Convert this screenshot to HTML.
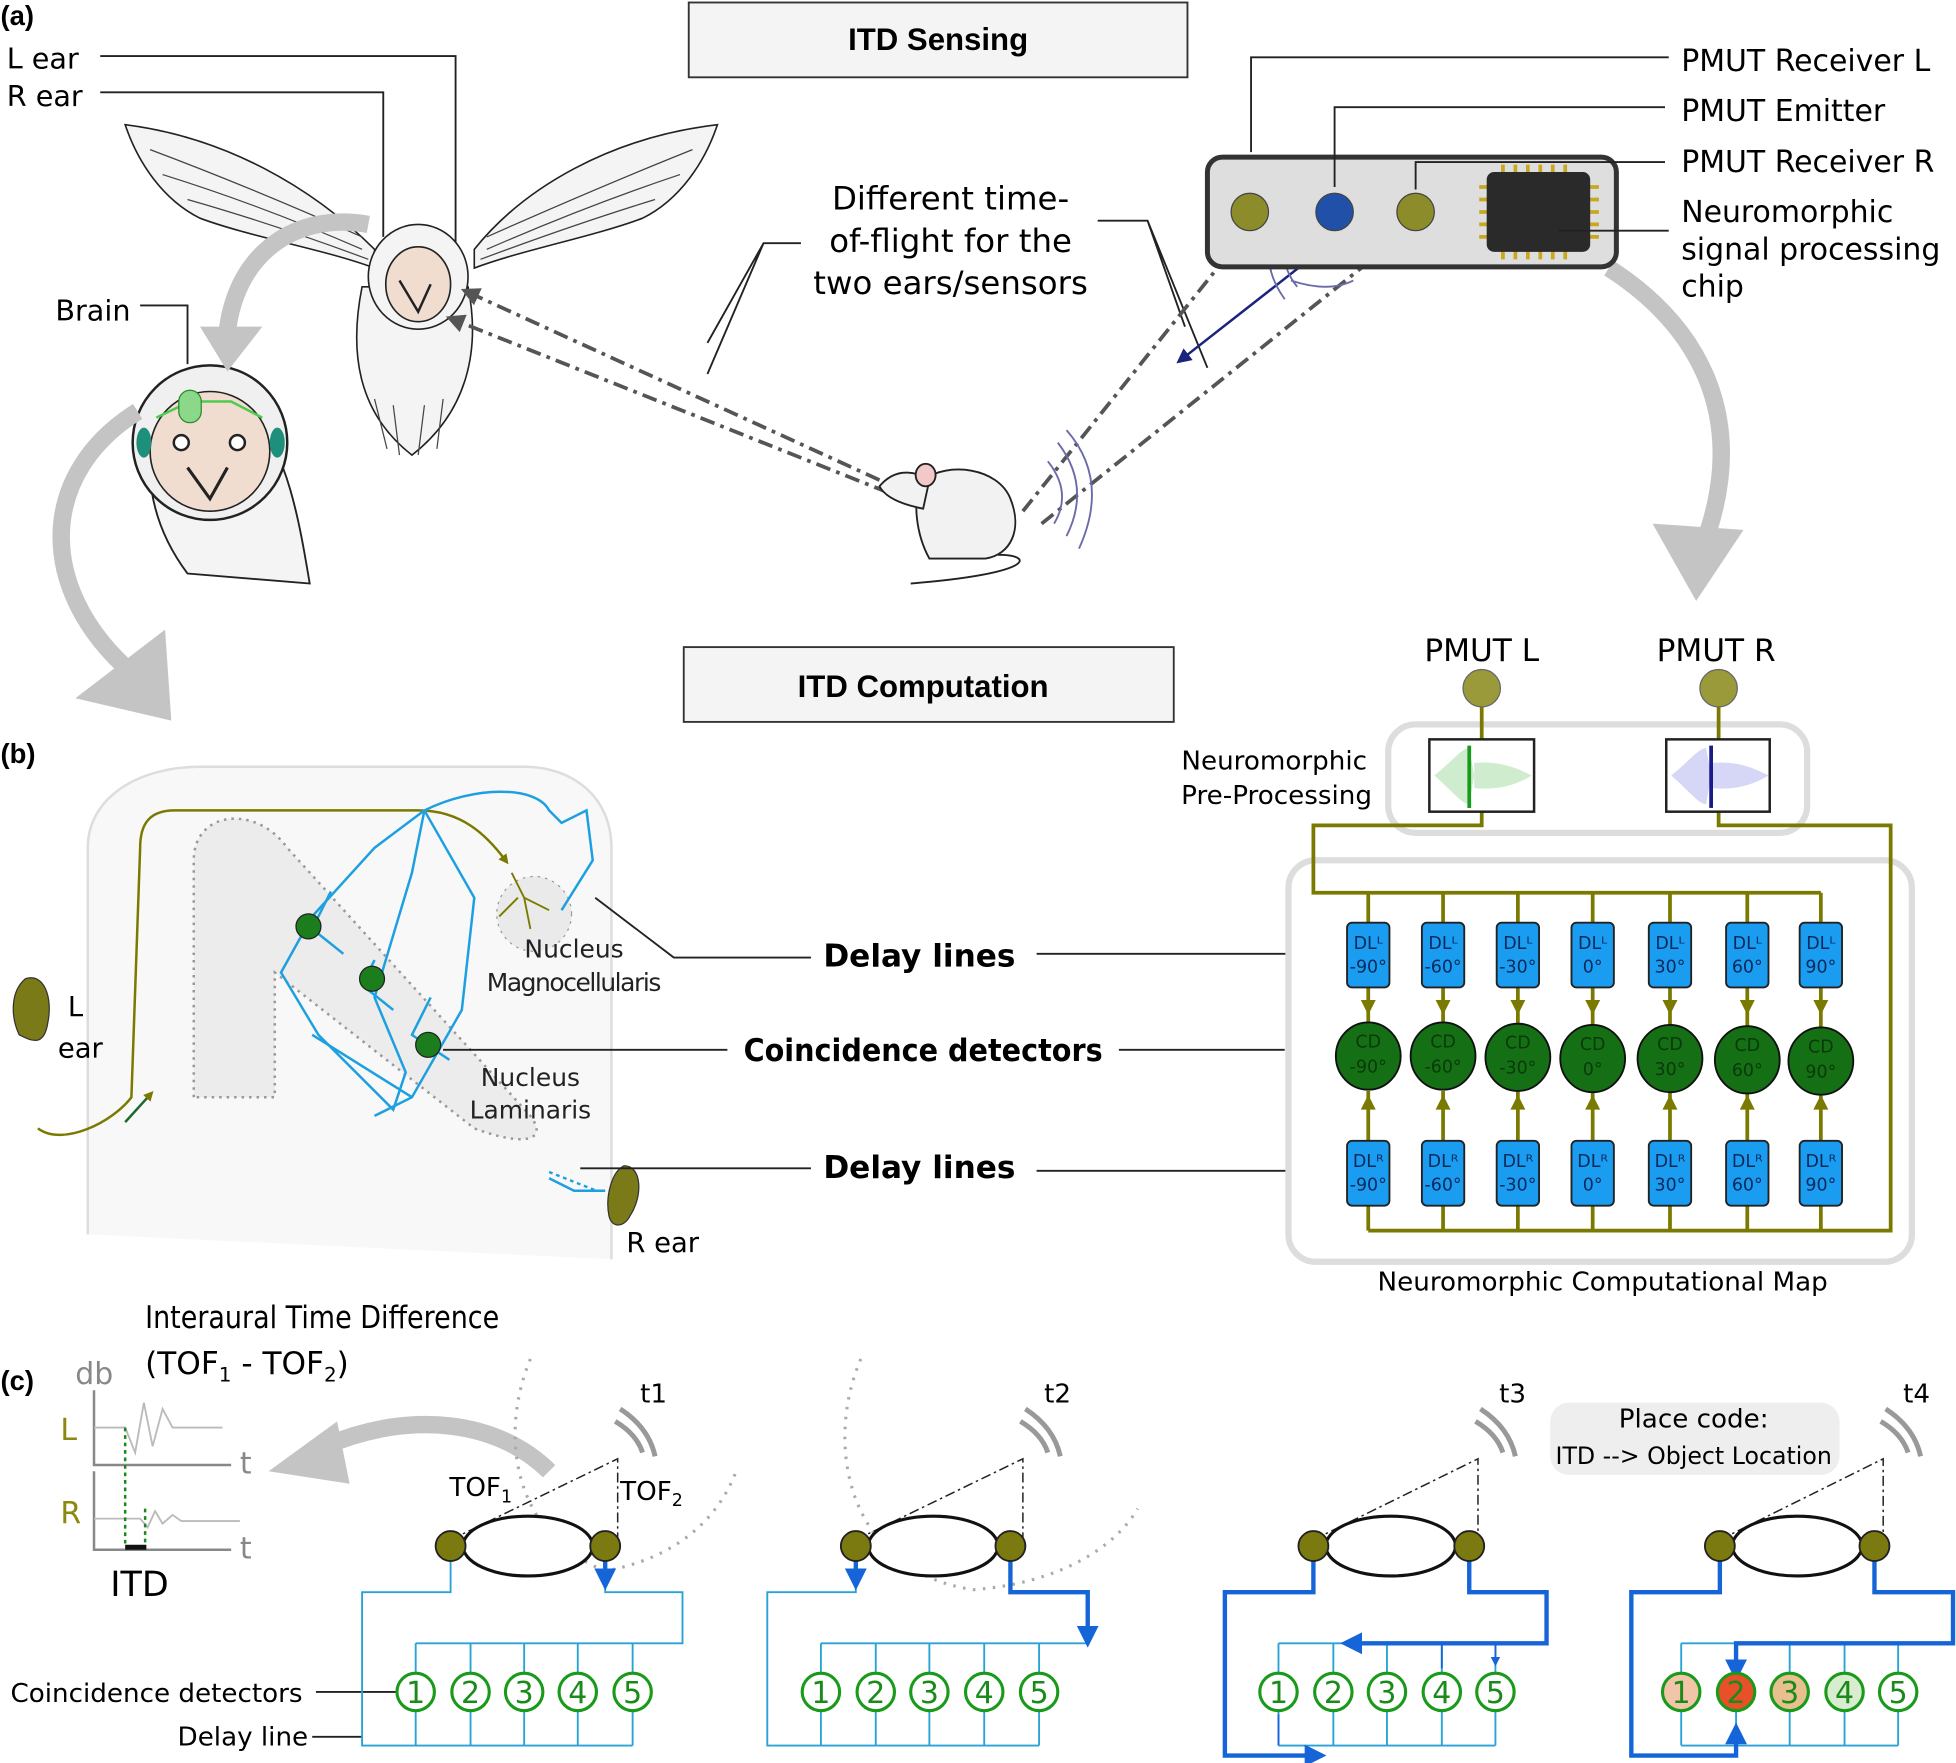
<!DOCTYPE html>
<html><head><meta charset="utf-8"><style>
html,body{margin:0;padding:0;background:#fff}
svg{display:block}
text{font-family:"DejaVu Sans","Liberation Sans",sans-serif}
.b{font-family:"Liberation Sans",sans-serif;font-weight:bold}
</style></head><body>
<svg width="1956" height="1763" viewBox="0 0 1568 1414" xmlns="http://www.w3.org/2000/svg">
<defs>
<marker id="ag" viewBox="0 0 10 10" refX="8" refY="5" markerWidth="5" markerHeight="5" orient="auto"><path d="M0,0L10,5L0,10z" fill="#555"/></marker>
<marker id="ab" viewBox="0 0 10 10" refX="8" refY="5" markerWidth="6" markerHeight="6" orient="auto"><path d="M0,0L10,5L0,10z" fill="#1a237e"/></marker>
<marker id="ao" viewBox="0 0 10 10" refX="5" refY="5" markerWidth="4" markerHeight="4" orient="auto"><path d="M0,0L10,5L0,10z" fill="#7a7a00"/></marker>
<marker id="abl" viewBox="0 0 10 10" refX="8" refY="5" markerWidth="5" markerHeight="5" orient="auto"><path d="M0,0L10,5L0,10z" fill="#1565d8"/></marker>
</defs>

<!-- ===== (a) ===== -->
<text x="0" y="20" class="b" font-size="22">(a)</text>
<rect x="552" y="2" width="400" height="60" fill="#f4f4f4" stroke="#333" stroke-width="1.5"/>
<text x="752" y="40" class="b" font-size="25" text-anchor="middle">ITD Sensing</text>
<text x="5" y="55" font-size="23">L ear</text>
<text x="5" y="85" font-size="23">R ear</text>
<path d="M80,45H365V200M80,74H307V190" fill="none" stroke="#222" stroke-width="1.5"/>

<!-- owl -->
<g fill="#f4f4f4" stroke="#222" stroke-width="1.3">
<path d="M300,200C250,150 180,110 100,100C110,130 130,160 160,175C200,190 260,200 300,215Z"/>
<path d="M380,200C420,150 490,110 575,100C565,130 545,160 515,175C475,190 420,200 380,215Z"/>
<path d="M290,230C280,280 285,330 330,365C375,330 385,280 375,230Z"/>
<ellipse cx="335" cy="222" rx="40" ry="42"/>
<ellipse cx="335" cy="228" rx="26" ry="30" fill="#f1ddd0"/>
</g>
<g stroke="#444" stroke-width="1" fill="none">
<path d="M120,120Q200,150 290,190M130,140Q210,165 290,200M150,160Q220,180 295,208M555,120Q480,150 390,190M545,140Q470,165 390,200M525,160Q460,180 385,208"/>
<path d="M300,320L310,360M315,325L320,365M340,325L335,365M355,320L350,360"/>
</g>
<path d="M320,225L335,250L345,228" fill="none" stroke="#222" stroke-width="2"/>
<!-- brain head -->
<path d="M200,330C230,360 240,420 248,468L150,460C120,420 110,370 130,320Z" fill="#f4f4f4" stroke="#222" stroke-width="1.5"/>
<ellipse cx="168" cy="355" rx="62" ry="62" fill="#f0f0f0" stroke="#222" stroke-width="2"/>
<ellipse cx="168" cy="362" rx="48" ry="48" fill="#f1ddd0" stroke="#222" stroke-width="1.3"/>
<path d="M125,335L152,322L185,322L210,335" fill="none" stroke="#4ccc4c" stroke-width="2"/>
<rect x="143" y="313" width="18" height="26" rx="9" fill="#8bd88b" stroke="#2a8a2a"/>
<ellipse cx="115" cy="355" rx="6" ry="12" fill="#1e8f7a"/><ellipse cx="222" cy="355" rx="6" ry="12" fill="#1e8f7a"/>
<circle cx="145" cy="355" r="6" fill="#fff" stroke="#222" stroke-width="2"/><circle cx="190" cy="355" r="6" fill="#fff" stroke="#222" stroke-width="2"/>
<path d="M150,375L168,400L182,375" fill="none" stroke="#222" stroke-width="2.5"/>
<text x="44" y="257" font-size="23">Brain</text>
<path d="M112,245H150V292" fill="none" stroke="#222" stroke-width="1.5"/>

<!-- gray arrows -->
<g fill="none" stroke="#c4c4c4" stroke-width="14">
<path d="M295,180C240,170 190,200 182,265"/>
<path d="M110,330C30,380 30,470 100,535"/>
<path d="M1290,215C1360,260 1400,330 1370,425"/>
<path d="M440,1180C400,1140 330,1130 260,1160"/>
</g>
<g fill="#c4c4c4">
<path d="M160,262L182,298L210,262Z"/>
<path d="M60,560L137,578L132,505Z"/>
<path d="M1325,420L1360,482L1398,425Z"/>
<path d="M270,1140L215,1180L280,1190Z"/>
</g>

<!-- TOF text -->
<g font-size="26" text-anchor="middle"><text x="762" y="168">Different time-</text><text x="762" y="202">of-flight for the</text><text x="762" y="236">two ears/sensors</text></g>
<path d="M642,195H612L567,275M612,195L567,300M880,177H920L968,295M920,177L950,262" fill="none" stroke="#222" stroke-width="1.5"/>
<g stroke="#555" stroke-width="3" stroke-dasharray="12,5,3,5" fill="none" marker-end="url(#ag)">
<path d="M705,385L372,233"/><path d="M712,395L360,255"/>
<path d="M820,410L1000,185"/><path d="M835,420L1135,180"/>
</g>
<path d="M1060,200L945,290" stroke="#1a237e" stroke-width="2" marker-end="url(#ab)"/>
<g fill="none" stroke="#6b6ba8" stroke-width="1.5">
<path d="M1040,180Q1020,205 1040,230M1030,175Q1005,205 1030,240M1085,200Q1070,210 1045,205M1085,225Q1065,235 1035,225"/>
<path d="M840,370Q860,395 845,420M848,355Q875,390 855,430M855,345Q890,385 865,440"/>
</g>
<!-- mouse -->
<g fill="#f2f2f2" stroke="#222" stroke-width="1.5">
<path d="M740,385C760,370 800,375 810,400C820,425 810,445 790,448L745,448C735,430 730,400 740,385Z"/>
<path d="M705,390C715,378 730,375 745,385L740,408C725,405 710,400 705,390Z"/>
<ellipse cx="742" cy="381" rx="8" ry="9" fill="#f3c8c8"/>
</g>
<path d="M800,445C830,445 830,460 730,468" fill="none" stroke="#222" stroke-width="1.5"/>

<!-- device -->
<rect x="968" y="126" width="328" height="88" rx="12" fill="#dedede" stroke="#333" stroke-width="4"/>
<circle cx="1002" cy="170" r="15" fill="#8c8c2a" stroke="#444"/>
<circle cx="1070" cy="170" r="15" fill="#2050a8" stroke="#444"/>
<circle cx="1135" cy="170" r="15" fill="#8c8c2a" stroke="#444"/>
<g stroke="#c8a820" stroke-width="3"><path d="M1186,150h8M1186,160h8M1186,170h8M1186,180h8M1186,190h8M1274,150h8M1274,160h8M1274,170h8M1274,180h8M1274,190h8M1205,132v8M1215,132v8M1225,132v8M1235,132v8M1245,132v8M1255,132v8M1205,200v8M1215,200v8M1225,200v8M1235,200v8M1245,200v8M1255,200v8"/></g>
<rect x="1192" y="138" width="83" height="64" rx="6" fill="#2a2a2a"/>
<g font-size="24"><text x="1348" y="57">PMUT Receiver L</text><text x="1348" y="97">PMUT Emitter</text><text x="1348" y="138">PMUT Receiver R</text><text x="1348" y="178">Neuromorphic</text><text x="1348" y="208">signal processing</text><text x="1348" y="238">chip</text></g>
<path d="M1003,122V46H1338M1070,150V86H1335M1135,152V130H1335M1250,185H1338" fill="none" stroke="#222" stroke-width="1.5"/>

<!-- ===== (b) ===== -->
<rect x="548" y="519" width="393" height="60" fill="#f4f4f4" stroke="#333" stroke-width="1.5"/>
<text x="740" y="559" class="b" font-size="25" text-anchor="middle">ITD Computation</text>
<text x="0" y="612" class="b" font-size="22">(b)</text>
<path d="M70,990V680C70,640 110,615 160,615H420C460,615 490,640 490,680V1010" fill="#f8f8f8" stroke="#ddd" stroke-width="2"/>
<path d="M155,880V690C155,650 205,645 230,680L425,895C440,915 420,920 380,905L220,780V880Z" fill="#ececec" stroke="#999" stroke-width="2" stroke-dasharray="2,4"/>
<ellipse cx="428" cy="733" rx="30" ry="30" fill="#eaeaea" stroke="#999" stroke-dasharray="2,4"/>
<path d="M30,905C50,920 90,900 105,880L112,680C112,660 120,650 140,650H335C370,650 390,670 405,690" fill="none" stroke="#7a7a00" stroke-width="2" marker-end="url(#ao)"/>
<path d="M410,700L420,720M415,720L400,735M420,720L425,745M420,720L440,730" stroke="#7a7a00" fill="none" stroke-width="1.5"/>
<path d="M100,900L120,878" stroke="#1a6a30" stroke-width="2" marker-end="url(#ao)"/>
<g fill="none" stroke="#1ea0e0" stroke-width="2">
<path d="M340,650L300,680L250,735L225,780L255,830L315,890L325,860L300,800L330,700L340,650"/>
<path d="M340,650L380,720L370,810L330,880L300,895"/>
<path d="M340,650C380,630 430,630 440,650L450,660L470,650L475,690L450,730"/>
<path d="M265,715L250,745L275,765M300,770L290,790L315,810M345,800L330,830L360,850M250,830L330,880"/>
<path d="M440,945L460,955L485,955"/>
</g>
<path d="M440,940L478,955" stroke="#1ea0e0" stroke-width="2" stroke-dasharray="3,3"/>
<circle cx="247" cy="743" r="10" fill="#1b7d1b" stroke="#222"/>
<circle cx="298" cy="785" r="10" fill="#1b7d1b" stroke="#222"/>
<circle cx="343" cy="838" r="10" fill="#1b7d1b" stroke="#222"/>
<path d="M20,785C35,780 42,800 38,820C35,840 25,835 15,830C8,815 8,795 20,785Z" fill="#7a7a18" stroke="#333"/>
<path d="M500,935C515,935 515,960 505,975C500,985 490,985 488,975C485,960 490,940 500,935Z" fill="#7a7a18" stroke="#333"/>
<g font-size="22"><text x="54" y="815">L</text><text x="46" y="848">ear</text><text x="502" y="1004">R ear</text></g>
<g font-size="20" text-anchor="middle" fill="#222"><text x="460" y="768">Nucleus</text><text x="460" y="795" textLength="140">Magnocellularis</text><text x="425" y="871">Nucleus</text><text x="425" y="897">Laminaris</text></g>
<g class="b" font-size="25" text-anchor="middle"><text x="737" y="775">Delay lines</text><text x="740" y="851" textLength="288" lengthAdjust="spacingAndGlyphs">Coincidence detectors</text><text x="737" y="945">Delay lines</text></g>
<path d="M477,720L540,768H650M831,765H1033M355,842H583M897,842H1030M465,937H650M831,939H1033" fill="none" stroke="#222" stroke-width="1.5"/>

<text x="1188" y="530" font-size="25" text-anchor="middle">PMUT L</text>
<text x="1376" y="530" font-size="25" text-anchor="middle">PMUT R</text>
<rect x="1113" y="581" width="336" height="87" rx="22" fill="none" stroke="#ddd" stroke-width="5"/>
<rect x="1033" y="690" width="500" height="322" rx="22" fill="none" stroke="#ddd" stroke-width="5"/>
<g font-size="21" text-anchor="end"><text x="1096" y="617">Neuromorphic</text><text x="1100" y="645">Pre-Processing</text></g>
<g stroke="#7a7a00" stroke-width="3" fill="none">
<path d="M1188,565V593M1378,565V593"/>
<path d="M1188,651V662H1053V716H1460"/>
<path d="M1378,651V662H1516V987H1097"/>
<path d="M1097,716V740M1157,716V740M1217,716V740M1277,716V740M1339,716V740M1401,716V740M1460,716V740"/>
<path d="M1097,792V825M1157,792V825M1217,792V825M1277,792V825M1339,792V825M1401,792V825M1460,792V825"/>
<path d="M1097,875V915M1157,875V915M1217,875V915M1277,875V915M1339,875V915M1401,875V915M1460,875V915"/>
<path d="M1097,967V987M1157,967V987M1217,967V987M1277,967V987M1339,967V987M1401,967V987M1460,967V987"/>
</g>
<circle cx="1188" cy="552" r="15" fill="#9a9a3a" stroke="#666"/>
<circle cx="1378" cy="552" r="15" fill="#9a9a3a" stroke="#666"/>
<rect x="1146" y="593" width="84" height="58" fill="#fff" stroke="#222" stroke-width="2"/>
<rect x="1336" y="593" width="83" height="58" fill="#fff" stroke="#222" stroke-width="2"/>
<path d="M1150,622C1165,610 1172,600 1178,600L1182,622L1178,645C1172,645 1165,635 1150,622ZM1182,612C1200,610 1215,615 1228,622C1215,630 1200,634 1182,632Z" fill="#cfeccf"/>
<path d="M1340,622C1355,610 1362,600 1368,600L1372,622L1368,645C1362,645 1355,635 1340,622ZM1372,612C1390,610 1405,615 1418,622C1405,630 1390,634 1372,632Z" fill="#d6d6f7"/>
<path d="M1178,598V648" stroke="#1a9a1a" stroke-width="3"/>
<path d="M1372,598V648" stroke="#1a1a8a" stroke-width="3"/>
<g fill="#7a7a00"><path d="M1091,802h12l-6,12z"/><path d="M1151,802h12l-6,12z"/><path d="M1211,802h12l-6,12z"/><path d="M1271,802h12l-6,12z"/><path d="M1333,802h12l-6,12z"/><path d="M1395,802h12l-6,12z"/><path d="M1454,802h12l-6,12z"/>
<path d="M1091,890h12l-6,-12z"/><path d="M1151,890h12l-6,-12z"/><path d="M1211,890h12l-6,-12z"/><path d="M1271,890h12l-6,-12z"/><path d="M1333,890h12l-6,-12z"/><path d="M1395,890h12l-6,-12z"/><path d="M1454,890h12l-6,-12z"/></g>
<g fill="#1a9cf0" stroke="#222" stroke-width="1.5">
<rect x="1080" y="740" width="34" height="52" rx="4"/><rect x="1140" y="740" width="34" height="52" rx="4"/><rect x="1200" y="740" width="34" height="52" rx="4"/><rect x="1260" y="740" width="34" height="52" rx="4"/><rect x="1322" y="740" width="34" height="52" rx="4"/><rect x="1384" y="740" width="34" height="52" rx="4"/><rect x="1443" y="740" width="34" height="52" rx="4"/>
<rect x="1080" y="915" width="34" height="52" rx="4"/><rect x="1140" y="915" width="34" height="52" rx="4"/><rect x="1200" y="915" width="34" height="52" rx="4"/><rect x="1260" y="915" width="34" height="52" rx="4"/><rect x="1322" y="915" width="34" height="52" rx="4"/><rect x="1384" y="915" width="34" height="52" rx="4"/><rect x="1443" y="915" width="34" height="52" rx="4"/>
</g>
<g fill="#157015" stroke="#111" stroke-width="1.5">
<ellipse cx="1097" cy="847" rx="26" ry="27"/><ellipse cx="1157" cy="847" rx="26" ry="27"/><ellipse cx="1217" cy="848" rx="26" ry="27"/><ellipse cx="1277" cy="849" rx="26" ry="27"/><ellipse cx="1339" cy="849" rx="26" ry="27"/><ellipse cx="1401" cy="850" rx="26" ry="27"/><ellipse cx="1460" cy="851" rx="26" ry="27"/>
</g>
<g font-size="14" text-anchor="middle" fill="#0a2a5a" font-family="Liberation Sans,sans-serif">
<text x="1097" y="761">DLᴸ</text><text x="1097" y="780">-90°</text><text x="1157" y="761">DLᴸ</text><text x="1157" y="780">-60°</text><text x="1217" y="761">DLᴸ</text><text x="1217" y="780">-30°</text><text x="1277" y="761">DLᴸ</text><text x="1277" y="780">0°</text><text x="1339" y="761">DLᴸ</text><text x="1339" y="780">30°</text><text x="1401" y="761">DLᴸ</text><text x="1401" y="780">60°</text><text x="1460" y="761">DLᴸ</text><text x="1460" y="780">90°</text>
<text x="1097" y="936">DLᴿ</text><text x="1097" y="955">-90°</text><text x="1157" y="936">DLᴿ</text><text x="1157" y="955">-60°</text><text x="1217" y="936">DLᴿ</text><text x="1217" y="955">-30°</text><text x="1277" y="936">DLᴿ</text><text x="1277" y="955">0°</text><text x="1339" y="936">DLᴿ</text><text x="1339" y="955">30°</text><text x="1401" y="936">DLᴿ</text><text x="1401" y="955">60°</text><text x="1460" y="936">DLᴿ</text><text x="1460" y="955">90°</text>
</g>
<g font-size="14" text-anchor="middle" fill="#0a3a0a" font-family="Liberation Sans,sans-serif">
<text x="1097" y="840">CD</text><text x="1097" y="860">-90°</text><text x="1157" y="840">CD</text><text x="1157" y="860">-60°</text><text x="1217" y="841">CD</text><text x="1217" y="861">-30°</text><text x="1277" y="842">CD</text><text x="1277" y="862">0°</text><text x="1339" y="842">CD</text><text x="1339" y="862">30°</text><text x="1401" y="843">CD</text><text x="1401" y="863">60°</text><text x="1460" y="844">CD</text><text x="1460" y="864">90°</text>
</g>
<text x="1285" y="1035" font-size="21" text-anchor="middle">Neuromorphic Computational Map</text>

<!-- ===== (c) ===== -->
<text x="0" y="1115" class="b" font-size="22">(c)</text>
<text x="116" y="1065" font-size="25" textLength="284" lengthAdjust="spacingAndGlyphs">Interaural Time Difference</text>
<text x="116" y="1102" font-size="25">(TOF<tspan font-size="16" dy="6">1</tspan><tspan dy="-6"> - TOF</tspan><tspan font-size="16" dy="6">2</tspan><tspan dy="-6">)</tspan></text>
<text x="60" y="1110" font-size="24" fill="#888">db</text>
<text x="48" y="1155" font-size="24" fill="#8a8a10">L</text>
<text x="48" y="1222" font-size="24" fill="#8a8a10">R</text>
<text x="192" y="1182" font-size="24" fill="#888">t</text>
<text x="192" y="1250" font-size="24" fill="#888">t</text>
<text x="88" y="1280" font-size="28" font-family="Liberation Sans,sans-serif">ITD</text>
<path d="M75,1115V1175H185M75,1180V1243H185" fill="none" stroke="#888" stroke-width="2"/>
<path d="M75,1145H100L108,1165L115,1125L122,1160L130,1130L138,1145H178M75,1218H112L118,1225L124,1212L130,1222L138,1215L145,1220H192" fill="none" stroke="#bbb" stroke-width="1.5"/>
<path d="M100,1145V1240M116,1210V1240" stroke="#1a8a1a" stroke-width="2" stroke-dasharray="3,3"/>
<path d="M100,1241H117" stroke="#111" stroke-width="4"/>
<text x="8" y="1365" font-size="21" font-family="Liberation Sans,sans-serif">Coincidence detectors</text>
<text x="142" y="1400" font-size="21" font-family="Liberation Sans,sans-serif">Delay line</text>
<path d="M253,1357H318M250,1393H290" stroke="#222" stroke-width="1.5"/>
<rect x="1243" y="1125" width="232" height="58" rx="15" fill="#eee"/>
<text x="1358" y="1145" font-size="21" text-anchor="middle" font-family="Liberation Sans,sans-serif">Place code:</text>
<text x="1358" y="1174" font-size="19" text-anchor="middle" font-family="Liberation Sans,sans-serif">ITD --&gt; Object Location</text>
<g font-size="21" font-family="Liberation Sans,sans-serif"><text x="513" y="1125">t1</text><text x="837" y="1125">t2</text><text x="1202" y="1125">t3</text><text x="1526" y="1125">t4</text></g>
<text x="360" y="1200" font-size="21" font-family="Liberation Sans,sans-serif">TOF<tspan font-size="14" dy="5">1</tspan></text>
<text x="497" y="1203" font-size="21" font-family="Liberation Sans,sans-serif">TOF<tspan font-size="14" dy="5">2</tspan></text>
<g fill="none" stroke="#999" stroke-width="4">
<path d="M493,1140Q510,1150 515,1165M497,1130Q520,1145 525,1168"/>
<path d="M818,1140Q835,1150 840,1165M822,1130Q845,1145 850,1168"/>
<path d="M1183,1140Q1200,1150 1205,1165M1187,1130Q1210,1145 1215,1168"/>
<path d="M1508,1140Q1525,1150 1530,1165M1512,1130Q1535,1145 1540,1168"/>
</g>
<g fill="none" stroke="#aaa" stroke-width="2.5" stroke-dasharray="2,6">
<path d="M425,1090C400,1150 410,1230 485,1260C540,1250 575,1220 590,1180"/>
<path d="M690,1090C660,1160 680,1260 780,1275C850,1270 895,1240 912,1210"/>
</g>
<g fill="none" stroke="#222" stroke-width="1.2" stroke-dasharray="8,3,2,3">
<path d="M361,1235L495,1170V1235"/><path d="M686,1235L820,1170V1235"/><path d="M1053,1235L1185,1170V1235"/><path d="M1379,1235L1510,1170V1235"/>
</g>
<g fill="#fff" stroke="#111" stroke-width="2.5">
<ellipse cx="423" cy="1240" rx="52" ry="24"/><ellipse cx="748" cy="1240" rx="52" ry="24"/><ellipse cx="1115" cy="1240" rx="52" ry="24"/><ellipse cx="1441" cy="1240" rx="52" ry="24"/>
</g>
<g fill="none" stroke="#29a3d6" stroke-width="1.5">
<path d="M361,1240V1277H290V1400H507M485,1240V1277H547V1318H333"/>
<path d="M333,1318V1400M377,1318V1400M420,1318V1400M463,1318V1400M507,1318V1400"/>
<path d="M686,1240V1277H615V1400H833M810,1240V1277H872V1318H658"/>
<path d="M658,1318V1400M702,1318V1400M745,1318V1400M789,1318V1400M833,1318V1400"/>
<path d="M1025,1318V1400M1069,1318V1400M1112,1318V1400M1156,1318V1400M1199,1318V1400"/>
<path d="M1348,1318V1400M1392,1318V1400M1435,1318V1400M1479,1318V1400M1522,1318V1400"/>
<path d="M1025,1318H1199M1025,1400H1199M1348,1318H1522M1348,1400H1522"/>
</g>
<g fill="none" stroke="#1565d8" stroke-width="3.5">
<path d="M485,1240V1272" marker-end="url(#abl)"/>
<path d="M686,1240V1272" marker-end="url(#abl)"/>
<path d="M810,1240V1277H872V1318" marker-end="url(#abl)"/>
<path d="M1053,1240V1277H982V1408H1060" marker-end="url(#abl)"/>
<path d="M1178,1240V1277H1240V1318H1078" marker-end="url(#abl)"/>
<path d="M1379,1240V1277H1308V1408H1392V1385" marker-end="url(#abl)"/>
<path d="M1503,1240V1277H1566V1318H1392V1345" marker-end="url(#abl)"/>
</g>
<path d="M1025,1400V1375M1156,1318V1338M1199,1318V1335" stroke="#1565d8" stroke-width="1.5" marker-end="url(#abl)"/>
<g fill="#7a7a10" stroke="#222" stroke-width="1.5">
<circle cx="361" cy="1240" r="12"/><circle cx="485" cy="1240" r="12"/><circle cx="686" cy="1240" r="12"/><circle cx="810" cy="1240" r="12"/><circle cx="1053" cy="1240" r="12"/><circle cx="1178" cy="1240" r="12"/><circle cx="1379" cy="1240" r="12"/><circle cx="1503" cy="1240" r="12"/>
</g>
<g fill="#fff" stroke="#1a9a1a" stroke-width="2.5">
<circle cx="333" cy="1357" r="15"/><circle cx="377" cy="1357" r="15"/><circle cx="420" cy="1357" r="15"/><circle cx="463" cy="1357" r="15"/><circle cx="507" cy="1357" r="15"/>
<circle cx="658" cy="1357" r="15"/><circle cx="702" cy="1357" r="15"/><circle cx="745" cy="1357" r="15"/><circle cx="789" cy="1357" r="15"/><circle cx="833" cy="1357" r="15"/>
<circle cx="1025" cy="1357" r="15"/><circle cx="1069" cy="1357" r="15"/><circle cx="1112" cy="1357" r="15"/><circle cx="1156" cy="1357" r="15"/><circle cx="1199" cy="1357" r="15"/>
<circle cx="1348" cy="1357" r="15" fill="#f2c4a8"/><circle cx="1392" cy="1357" r="15" fill="#e8502a"/><circle cx="1435" cy="1357" r="15" fill="#e8c090"/><circle cx="1479" cy="1357" r="15" fill="#d8ecd0"/><circle cx="1522" cy="1357" r="15"/>
</g>
<g font-size="24" text-anchor="middle" fill="#1a8a1a" font-family="Liberation Sans,sans-serif">
<text x="333" y="1366">1</text><text x="377" y="1366">2</text><text x="420" y="1366">3</text><text x="463" y="1366">4</text><text x="507" y="1366">5</text>
<text x="658" y="1366">1</text><text x="702" y="1366">2</text><text x="745" y="1366">3</text><text x="789" y="1366">4</text><text x="833" y="1366">5</text>
<text x="1025" y="1366">1</text><text x="1069" y="1366">2</text><text x="1112" y="1366">3</text><text x="1156" y="1366">4</text><text x="1199" y="1366">5</text>
<text x="1348" y="1366">1</text><text x="1392" y="1366">2</text><text x="1435" y="1366">3</text><text x="1479" y="1366">4</text><text x="1522" y="1366">5</text>
</g>
</svg>
</body></html>
